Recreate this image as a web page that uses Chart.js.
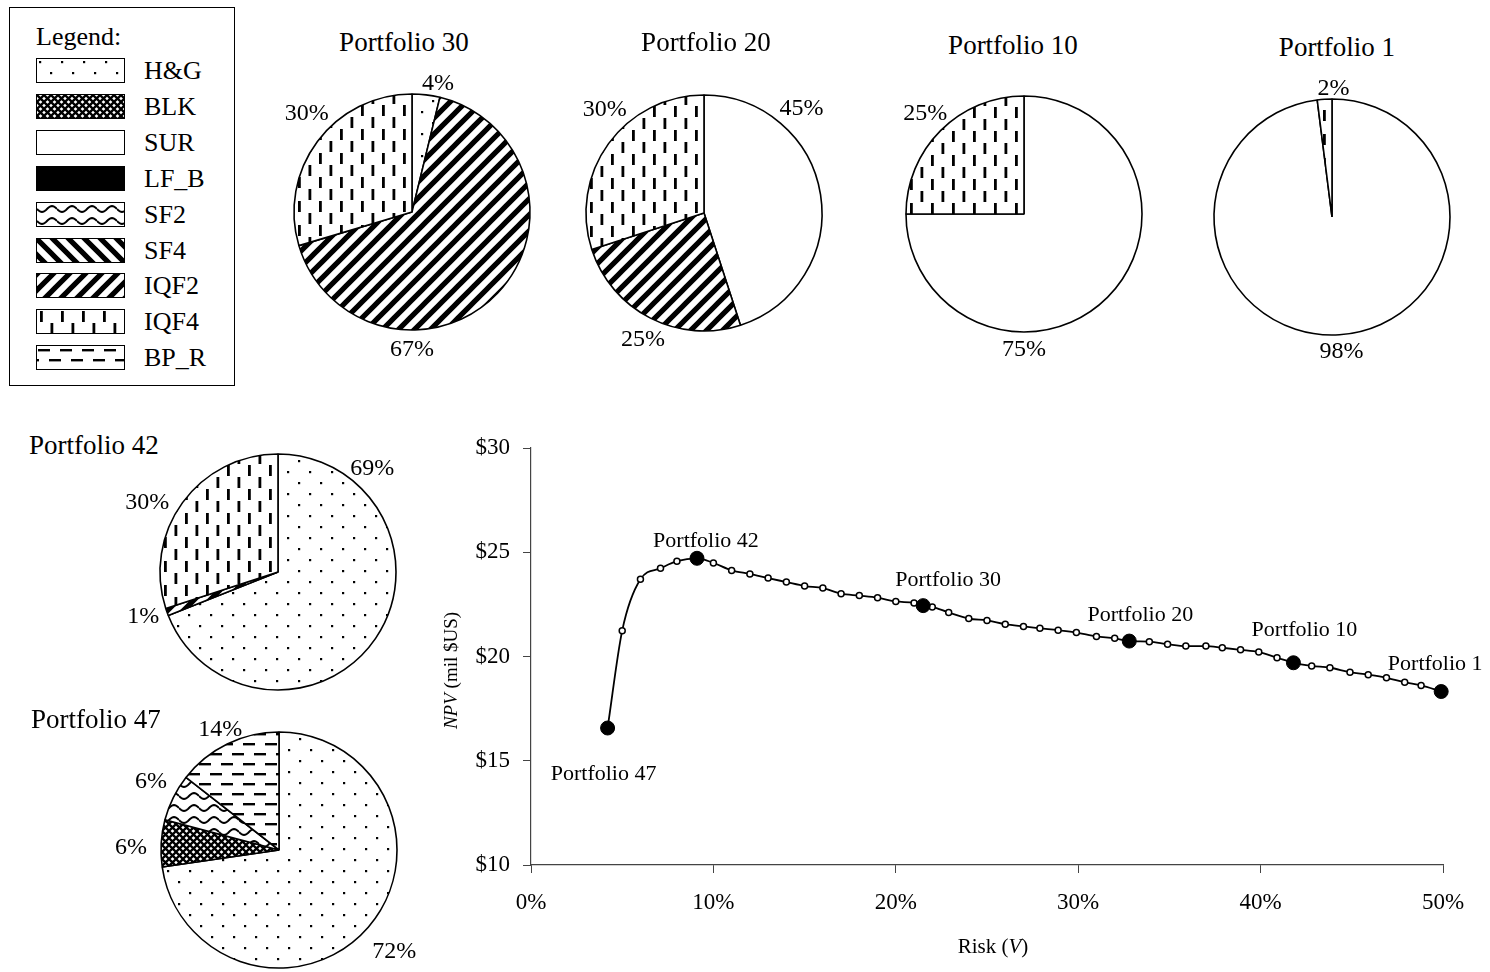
<!DOCTYPE html>
<html>
<head>
<meta charset="utf-8">
<script src="https://cdn.jsdelivr.net/npm/chart.js@4.4.0/dist/chart.umd.min.js"></script>
<style>
  body { margin: 0; width: 1490px; height: 972px; background: #fff; position: relative; overflow: hidden;
         font-family: 'Liberation Serif', 'Times New Roman', serif; color: #000; }
  canvas { position: absolute; }
  .ttl { position: absolute; font-size: 27px; line-height: 30px; white-space: nowrap; }
  .ctr { width: 240px; text-align: center; }
  #legendBox { position: absolute; left: 9px; top: 7px; width: 224px; height: 377px; border: 1.5px solid #000; }
  .sw { position: absolute; left: 36px; width: 87px; height: 23px; border: 1.5px solid #000; }
  .lt { position: absolute; left: 144px; font-size: 26px; line-height: 26px; }
</style>
</head>
<body>
<div id="legendBox"></div>
<div class="lt" style="left:36px;top:24px;">Legend:</div>

<script>
// pie categories (legend order)
const categories = ['H&G', 'BLK', 'SUR', 'LF_B', 'SF2', 'SF4', 'IQF2', 'IQF4', 'BP_R'];

// share of each category per portfolio, %
const portfolio30 = [3.8, 0, 0, 0, 0, 0, 66.6, 29.6, 0];
const portfolio20 = [0, 0, 45, 0, 0, 0, 25, 30, 0];
const portfolio10 = [0, 0, 75, 0, 0, 0, 0, 25, 0];
const portfolio1  = [0, 0, 98, 0, 0, 0, 0, 2, 0];
const portfolio42 = [69, 0, 0, 0, 0, 0, 1, 30, 0];
const portfolio47 = [72.4, 6.4, 0, 0, 6.4, 0, 0, 0, 14.4];

// efficient frontier: risk (%) and NPV (mil $US)
const frontierRisk = [4.2, 5.0, 6.0, 7.1, 8.0, 9.1, 10.0, 11.0, 12.0, 13.0, 14.0, 15.0, 16.0, 17.0, 18.0, 19.0,
  20.0, 21.0, 21.5, 22.0, 22.9, 24.0, 25.0, 26.0, 27.0, 27.9, 28.9, 29.9, 31.0, 32.0, 32.8, 33.9, 34.9, 35.9,
  37.0, 37.9, 38.9, 39.9, 40.9, 41.8, 42.8, 43.8, 44.9, 45.9, 46.9, 47.9, 48.8, 49.9];
const frontierNpv = [16.57, 21.24, 23.70, 24.23, 24.57, 24.71, 24.49, 24.13, 23.96, 23.76, 23.57, 23.38, 23.28,
  23.01, 22.92, 22.82, 22.64, 22.57, 22.44, 22.38, 22.11, 21.82, 21.73, 21.55, 21.44, 21.35, 21.26, 21.15, 20.96,
  20.87, 20.74, 20.71, 20.59, 20.50, 20.50, 20.42, 20.32, 20.21, 19.94, 19.70, 19.55, 19.46, 19.25, 19.13, 18.98,
  18.76, 18.61, 18.32];

// highlighted portfolios
const portfolioNames = ['Portfolio 47', 'Portfolio 42', 'Portfolio 30', 'Portfolio 20', 'Portfolio 10', 'Portfolio 1'];
const portfolioRisk = [4.2, 9.1, 21.5, 32.8, 41.8, 49.9];
const portfolioNpv = [16.57, 24.71, 22.44, 20.74, 19.70, 18.32];

const xTicks = [0, 10, 20, 30, 40, 50];
const yTicks = [10, 15, 20, 25, 30];

// layout only: pie centres, titles, label angle/distance
const pies = [
  { name: 'Portfolio 30', values: portfolio30, cx: 412, cy: 212, tx: 404, ty: 42, center: true,
    lab: { 'H&G': [11.5, 131], 'IQF2': [180, 138], 'IQF4': [313, 144] } },
  { name: 'Portfolio 20', values: portfolio20, cx: 704, cy: 213, tx: 706, ty: 42, center: true,
    lab: { 'SUR': [43, 143], 'IQF2': [205.6, 141], 'IQF4': [316, 143] } },
  { name: 'Portfolio 10', values: portfolio10, cx: 1024, cy: 214, tx: 1013, ty: 45, center: true,
    lab: { 'SUR': [180, 136], 'IQF4': [315.5, 141] } },
  { name: 'Portfolio 1', values: portfolio1, cx: 1332, cy: 217, tx: 1337, ty: 47, center: true,
    lab: { 'SUR': [176, 135], 'IQF4': [0.7, 128] } },
  { name: 'Portfolio 42', values: portfolio42, cx: 278, cy: 572, tx: 29, ty: 445, center: false,
    lab: { 'H&G': [42.3, 140], 'IQF2': [251.5, 142], 'IQF4': [298, 148] } },
  { name: 'Portfolio 47', values: portfolio47, cx: 279, cy: 850, tx: 31, ty: 719, center: false,
    lab: { 'H&G': [131.5, 154], 'BLK': [270.7, 148], 'SF2': [298, 145], 'BP_R': [334, 134] } },
];

const fillKind = { 'H&G': 'dots', 'BLK': 'blk', 'SUR': '#fff', 'LF_B': '#000', 'SF2': 'wave',
                   'SF4': 'sf4', 'IQF2': 'iqf2', 'IQF4': 'iqf4', 'BP_R': 'bpr' };

function tile(kind) {
  const c = document.createElement('canvas');
  const g = c.getContext('2d');
  const size = { dots: [22, 22], blk: [7, 7], wave: [20, 12], sf4: [16, 16], iqf2: [16, 16],
                 iqf4: [21, 24], bpr: [22, 20] }[kind];
  c.width = size[0]; c.height = size[1];
  g.fillStyle = '#fff'; g.fillRect(0, 0, c.width, c.height);
  g.fillStyle = '#000'; g.strokeStyle = '#000';
  if (kind === 'dots') { g.fillRect(2, 2, 2.2, 2.2); g.fillRect(13, 13, 2.2, 2.2); }
  if (kind === 'blk') {
    g.lineWidth = 2.3; g.beginPath();
    g.moveTo(-1, -1); g.lineTo(8, 8); g.moveTo(8, -1); g.lineTo(-1, 8); g.stroke();
  }
  if (kind === 'wave') {
    g.lineWidth = 2; g.beginPath();
    for (let x = 0; x <= 20; x++) {
      const y = 6 + 3 * Math.sin(x / 20 * 2 * Math.PI);
      if (x === 0) g.moveTo(x, y); else g.lineTo(x, y);
    }
    g.stroke();
  }
  if (kind === 'sf4' || kind === 'iqf2') {
    g.lineWidth = 5.2; g.beginPath();
    for (const o of [-16, 0, 16]) {
      if (kind === 'sf4') { g.moveTo(o - 2, -2); g.lineTo(o + 18, 18); }
      else { g.moveTo(o - 2, 18); g.lineTo(o + 18, -2); }
    }
    g.stroke();
  }
  if (kind === 'iqf4') { g.fillRect(3, 1, 2.8, 11); g.fillRect(13.5, 13, 2.8, 11); }
  if (kind === 'bpr') { g.fillRect(1, 3, 12, 2.4); g.fillRect(12, 13, 10, 2.4); g.fillRect(0, 13, 2, 2.4); }
  return c;
}

const tiles = {};
['dots', 'blk', 'wave', 'sf4', 'iqf2', 'iqf4', 'bpr'].forEach(k => tiles[k] = tile(k));

function fillFor(ctx, cat) {
  const k = fillKind[cat];
  if (k[0] === '#') return k;
  return ctx.createPattern(tiles[k], 'repeat');
}

// legend
categories.forEach((cat, i) => {
  const top = 58 + i * 35.9;
  const sw = document.createElement('div');
  sw.className = 'sw';
  sw.style.top = top + 'px';
  const k = fillKind[cat];
  if (k[0] === '#') sw.style.background = k;
  else sw.style.backgroundImage = 'url(' + tiles[k].toDataURL() + ')';
  document.body.appendChild(sw);
  const t = document.createElement('div');
  t.className = 'lt';
  t.style.top = top + 'px';
  t.textContent = cat;
  document.body.appendChild(t);
});

const pieLabels = {
  id: 'pieLabels',
  afterDatasetsDraw(chart, args, opts) {
    const meta = chart.getDatasetMeta(0);
    const g = chart.ctx;
    g.save();
    g.font = '24px "Liberation Serif"';
    g.fillStyle = '#000';
    g.textAlign = 'center';
    g.textBaseline = 'middle';
    meta.data.forEach((arc, k) => {
      const cat = chart.data.labels[k];
      const pos = opts.lab[cat];
      if (!pos) return;
      const a = pos[0] * Math.PI / 180;
      g.fillText(Math.round(chart.data.datasets[0].data[k]) + '%',
        arc.x + pos[1] * Math.sin(a), arc.y - pos[1] * Math.cos(a));
    });
    g.restore();
  }
};

pies.forEach(p => {
  const ttl = document.createElement('div');
  ttl.className = 'ttl' + (p.center ? ' ctr' : '');
  ttl.textContent = p.name;
  ttl.style.left = (p.center ? p.tx - 120 : p.tx) + 'px';
  ttl.style.top = (p.ty - 15) + 'px';
  document.body.appendChild(ttl);

  const cv = document.createElement('canvas');
  cv.width = 360; cv.height = 360;
  cv.style.left = (p.cx - 180) + 'px';
  cv.style.top = (p.cy - 180) + 'px';
  document.body.appendChild(cv);
  const ctx = cv.getContext('2d');
  const idx = categories.map((c, i) => i).filter(i => p.values[i] > 0);
  new Chart(ctx, {
    type: 'pie',
    data: {
      labels: idx.map(i => categories[i]),
      datasets: [{
        data: idx.map(i => p.values[i]),
        backgroundColor: idx.map(i => fillFor(ctx, categories[i])),
        borderColor: '#000',
        borderWidth: 1.6
      }]
    },
    options: {
      responsive: false,
      animation: false,
      devicePixelRatio: 1,
      radius: 118,
      events: [],
      plugins: { legend: { display: false }, tooltip: { enabled: false }, pieLabels: { lab: p.lab } }
    },
    plugins: [pieLabels]
  });
});

// frontier chart
const labelOffset = [[-4, 46], [9, -17], [25, -25], [11, -26], [11, -33], [-6, -27]];

const lineText = {
  id: 'lineText',
  afterDatasetsDraw(chart) {
    const g = chart.ctx;
    const meta = chart.getDatasetMeta(0);
    g.save();
    g.fillStyle = '#000';
    g.textAlign = 'center';
    g.textBaseline = 'middle';
    g.font = '22px "Liberation Serif"';
    meta.data.forEach((pt, i) => {
      g.fillText(portfolioNames[i], pt.x + labelOffset[i][0], pt.y + labelOffset[i][1]);
    });
    const a = chart.chartArea;
    // x title: Risk (V)
    g.textAlign = 'left';
    const parts = [['Risk (', ''], ['V', 'italic '], [')', '']];
    let w = 0;
    parts.forEach(pp => { g.font = pp[1] + '21px "Liberation Serif"'; w += g.measureText(pp[0]).width; });
    let x = (a.left + a.right) / 2 + 6 - w / 2;
    parts.forEach(pp => { g.font = pp[1] + '21px "Liberation Serif"'; g.fillText(pp[0], x, 527); x += g.measureText(pp[0]).width; });
    // y title: NPV (mil $US)
    g.translate(22, (a.top + a.bottom) / 2 + 14);
    g.rotate(-Math.PI / 2);
    const yparts = [['NPV', 'italic '], [' (mil $US)', '']];
    w = 0;
    yparts.forEach(pp => { g.font = pp[1] + '19px "Liberation Serif"'; w += g.measureText(pp[0]).width; });
    x = -w / 2;
    yparts.forEach(pp => { g.font = pp[1] + '19px "Liberation Serif"'; g.fillText(pp[0], x, 0); x += g.measureText(pp[0]).width; });
    g.restore();
  }
};

const lc = document.createElement('canvas');
lc.width = 1060; lc.height = 552;
lc.style.left = '430px'; lc.style.top = '420px';
document.body.appendChild(lc);

const tickFont = { family: 'Liberation Serif', size: 23 };

new Chart(lc.getContext('2d'), {
  type: 'line',
  data: {
    datasets: [
      {
        data: portfolioRisk.map((x, i) => ({ x: x, y: portfolioNpv[i] })),
        showLine: false,
        pointRadius: 7,
        pointBackgroundColor: '#000',
        pointBorderColor: '#000',
        clip: false,
        order: 0
      },
      {
        data: frontierRisk.map((x, i) => ({ x: x, y: frontierNpv[i] })),
        borderColor: '#000',
        borderWidth: 1.8,
        pointRadius: 3,
        pointBackgroundColor: '#fff',
        pointBorderColor: '#000',
        pointBorderWidth: 1.5,
        cubicInterpolationMode: 'monotone',
        clip: false,
        order: 1
      }
    ]
  },
  options: {
    responsive: false,
    animation: false,
    devicePixelRatio: 1,
    events: [],
    layout: { padding: { top: 28, right: 47, left: 0, bottom: 0 } },
    scales: {
      x: {
        type: 'linear', min: 0, max: 50,
        afterBuildTicks: s => { s.ticks = xTicks.map(v => ({ value: v })); },
        ticks: { callback: v => v + '%', font: tickFont, color: '#000', padding: 16, maxRotation: 0 },
        grid: { drawOnChartArea: false, tickLength: 8, color: '#444' },
        border: { color: '#444', width: 1.2 },
        afterFit: s => { s.height = 107; }
      },
      y: {
        min: 10, max: 30,
        afterBuildTicks: s => { s.ticks = yTicks.map(v => ({ value: v })); },
        ticks: { callback: v => '$' + v, font: tickFont, color: '#000', padding: 13 },
        grid: { drawOnChartArea: false, tickLength: 8, color: '#444' },
        border: { color: '#444', width: 1.2 },
        afterFit: s => { s.width = 101; }
      }
    },
    plugins: { legend: { display: false }, tooltip: { enabled: false } }
  },
  plugins: [lineText]
});
</script>
</body>
</html>
